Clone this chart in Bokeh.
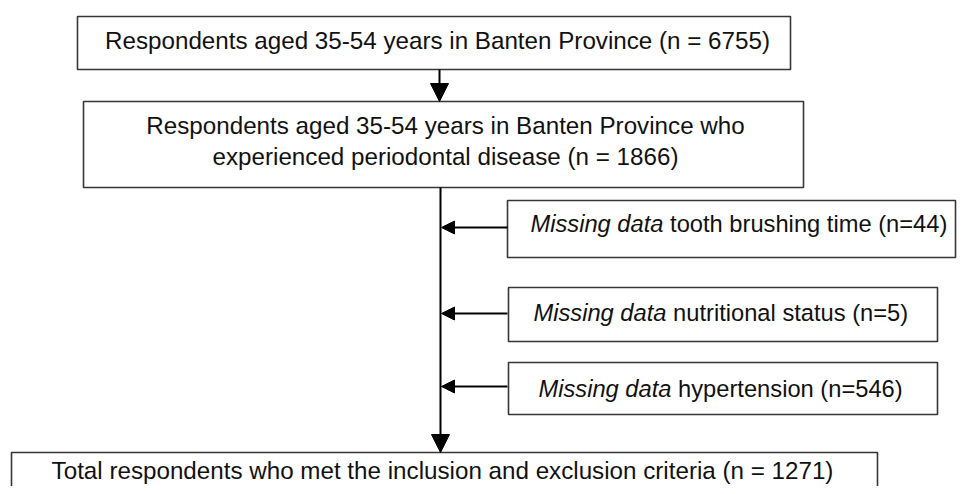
from bokeh.plotting import figure
from bokeh.models import Range1d, Arrow, NormalHead, ColumnDataSource
from bokeh.core.properties import value
from bokeh.embed import file_html
from bokeh.resources import INLINE

# ---- content ----
n_total = 6755
n_perio = 1866
missing_labels = ["tooth brushing time", "nutritional status", "hypertension"]
missing_n = [44, 5, 546]
n_final = 1271

main_texts = [
    f"Respondents aged 35-54 years in Banten Province (n = {n_total})",
    "Respondents aged 35-54 years in Banten Province who",
    f"experienced periodontal disease (n = {n_perio})",
    f"Total respondents who met the inclusion and exclusion criteria (n = {n_final})",
]
italic_prefix = ["Missing data"] * 3
suffix_texts = [f"{l} (n={n})" for l, n in zip(missing_labels, missing_n)]

# ---- layout (pixel coordinates) ----
FONT = "Liberation Sans"
FS_MAIN = "24.2px"
FS_SIDE = "23.7px"
W, H = 957, 486
main_boxes = dict(left=[77, 83, 11], right=[790, 803, 877], top=[16, 101, 452], bottom=[69, 187, 520])
side_boxes = dict(left=[507, 508, 508], right=[955, 937, 937], top=[200, 287, 362], bottom=[257, 341, 414])
main_text_x = [437, 445, 445, 442]
main_text_y = [39.5, 125, 155.5, 470]
side_text_x = [530, 533, 538]
side_text_y = [223.5, 312.5, 388.5]
side_arrow_y = [227, 313, 386]
spine_x = 440

p = figure(width=W, height=H, x_range=Range1d(0, W), y_range=Range1d(H, 0),
           output_backend="svg", toolbar_location=None, min_border=0)
p.axis.visible = False
p.grid.visible = False
p.outline_line_color = None
p.background_fill_color = "white"
p.border_fill_color = "white"

box_style = dict(fill_color="white", line_color="#363636", line_width=1.6)
p.quad(source=ColumnDataSource(main_boxes), left="left", right="right", top="top", bottom="bottom", **box_style)
p.quad(source=ColumnDataSource(side_boxes), left="left", right="right", top="top", bottom="bottom", **box_style)

# main texts
p.text(x=main_text_x, y=main_text_y, text=main_texts, text_align="center", text_baseline="alphabetic",
       text_font=value(FONT), text_font_size=FS_MAIN, text_color="#111111")
# side texts (italic prefix + normal suffix)
p.text(x=side_text_x, y=side_text_y, text=italic_prefix, text_align="left", text_baseline="alphabetic",
       text_font=value(FONT), text_font_size=FS_SIDE, text_font_style="italic", text_color="#111111")
p.text(x=side_text_x, y=side_text_y, text=suffix_texts, text_align="left", text_baseline="alphabetic",
       text_font=value(FONT), text_font_size=FS_SIDE, text_color="#111111", x_offset=139.6)

# arrows
p.add_layout(Arrow(x_start=spine_x - 1, y_start=69, x_end=spine_x - 1, y_end=101, line_width=2, line_color="black",
                   end=NormalHead(size=18, fill_color="black", line_color="black", line_width=1)))
p.add_layout(Arrow(x_start=spine_x, y_start=187, x_end=spine_x, y_end=452, line_width=2, line_color="black",
                   end=NormalHead(size=18, fill_color="black", line_color="black", line_width=1)))
for y in side_arrow_y:
    p.add_layout(Arrow(x_start=507, y_start=y, x_end=spine_x + 1, y_end=y, line_width=2, line_color="black",
                       end=NormalHead(size=13, fill_color="black", line_color="black", line_width=1)))

open("out.html", "w").write(file_html(p, INLINE))
